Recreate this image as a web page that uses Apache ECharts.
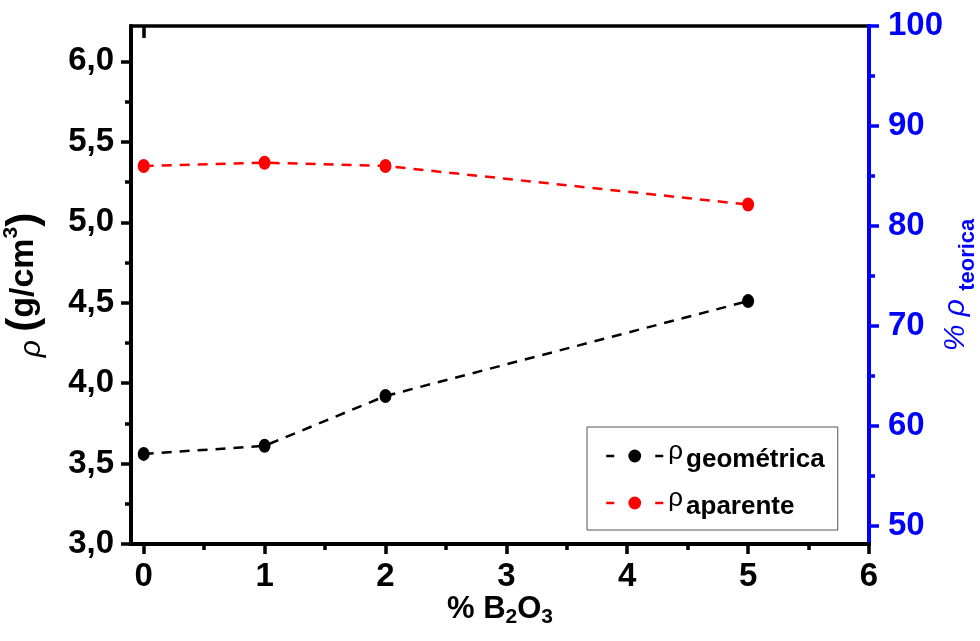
<!DOCTYPE html>
<html><head><meta charset="utf-8">
<script src="https://cdn.jsdelivr.net/npm/echarts@6/dist/echarts.min.js"></script>
<style>html,body{margin:0;padding:0;background:#fff}#c{width:980px;height:641px}</style>
</head><body><div id="c"></div>
<script>
const xPct = [0, 1, 2, 5];
const rhoGeom = [3.56, 3.61, 3.92, 4.51];
const rhoApar = [5.35, 5.37, 5.35, 5.11];
const xTicks = [0, 1, 2, 3, 4, 5, 6];
const xMinor = [0.5, 1.5, 2.5, 3.5, 4.5, 5.5];
const yTicks = [3.0, 3.5, 4.0, 4.5, 5.0, 5.5, 6.0];
const yMinor = [3.25, 3.75, 4.25, 4.75, 5.25, 5.75];
const rTicks = [50, 60, 70, 80, 90, 100];
const rMinor = [55, 65, 75, 85, 95];

const F = 'Liberation Sans, Arial, sans-serif';
const BLUE = '#0000ff';
const chart = echarts.init(document.getElementById('c'));
const pair = (xs, ys) => xs.map((x, i) => [x, ys[i]]);
const LS = 33;

chart.setOption({
  animation: false,
  grid: { left: 131, right: 111, top: 26, bottom: 97, containLabel: false, outerBoundsMode: 'none',
          show: true, borderColor: '#000', borderWidth: 3.5 },
  legend: {
    left: 587, top: 427, orient: 'vertical',
    borderColor: '#555', borderWidth: 1, padding: [8, 13, 10, 18], itemGap: 9,
    itemWidth: 57, itemHeight: 16,
    data: ['geom', 'apar'],
    lineStyle: { type: [8, 41], width: 2.5 },
    formatter: n => n === 'geom' ? '{r|ρ}{s|geométrica}' : '{r|ρ}{s|aparente}',
    textStyle: {
      fontFamily: F, color: '#000',
      rich: {
        r: { fontSize: 26, fontFamily: F, verticalAlign: 'top', lineHeight: 34, padding: [0, 3, 0, 0] },
        s: { fontSize: 26, fontWeight: 'bold', fontFamily: F, verticalAlign: 'bottom', lineHeight: 34, padding: [12, 0, 0, 0] }
      }
    }
  },
  xAxis: [{
    type: 'value', min: -0.105, max: 6,
    axisLine: { onZero: false, lineStyle: { color: '#000', width: 4 } },
    axisTick: { show: true, length: 10, lineStyle: { width: 3.5, color: '#000' }, customValues: xTicks },
    axisLabel: { customValues: xTicks, fontFamily: F, fontWeight: 'bold', fontSize: LS, color: '#000', margin: 16 },
    splitLine: { show: false },
    name: '{a|% B}{s|2}{a|O}{s|3}', nameLocation: 'middle', nameGap: 50, nameMoveOverlap: false,
    nameTextStyle: { rich: {
      a: { fontFamily: F, fontWeight: 'bold', fontSize: 31, color: '#000', verticalAlign: 'top', lineHeight: 34 },
      s: { fontFamily: F, fontWeight: 'bold', fontSize: 21, color: '#000', verticalAlign: 'bottom', lineHeight: 34, padding: [16, 0, 0, 0] }
    } }
  }, {
    type: 'value', min: -0.105, max: 6, position: 'bottom',
    axisLine: { show: false, onZero: false },
    axisTick: { show: true, length: 6, lineStyle: { width: 3.5, color: '#000' }, customValues: xMinor },
    axisLabel: { show: false }, splitLine: { show: false }
  }, {
    type: 'value', min: -0.105, max: 6, position: 'top',
    axisLine: { show: false, onZero: false },
    axisTick: { show: true, inside: true, length: 12, lineStyle: { width: 3.5, color: '#000' }, customValues: [0] },
    axisLabel: { show: false }, splitLine: { show: false }
  }],
  yAxis: [{
    type: 'value', min: 3.0, max: 6.22, position: 'left',
    axisLine: { show: true, onZero: false, lineStyle: { color: '#000', width: 4 } },
    axisTick: { show: true, length: 10, lineStyle: { width: 3.5, color: '#000' }, customValues: yTicks },
    axisLabel: { customValues: yTicks, formatter: v => v.toFixed(1).replace('.', ','), fontFamily: F, fontWeight: 'bold', fontSize: LS, color: '#000', margin: 17 },
    splitLine: { show: false },
    name: '{r|ρ }{p|(}{a|g/cm}{s|3}{p|)}', nameLocation: 'middle', nameGap: 84, nameRotate: 90, nameMoveOverlap: false,
    nameTextStyle: { rich: {
      r: { fontFamily: F, fontStyle: 'italic', fontSize: 30, color: '#000', verticalAlign: 'bottom', lineHeight: 46 },
      p: { fontFamily: F, fontWeight: 'bold', fontSize: 42, color: '#000', verticalAlign: 'middle', lineHeight: 46 },
      a: { fontFamily: F, fontWeight: 'bold', fontSize: 34, color: '#000', verticalAlign: 'middle', lineHeight: 46 },
      s: { fontFamily: F, fontWeight: 'bold', fontSize: 21, color: '#000', verticalAlign: 'top', lineHeight: 46 }
    } }
  }, {
    type: 'value', min: 3.0, max: 6.22, position: 'left',
    axisLine: { show: false, onZero: false },
    axisTick: { show: true, length: 6, lineStyle: { width: 3.5, color: '#000' }, customValues: yMinor },
    axisLabel: { show: false }, splitLine: { show: false }
  }, {
    type: 'value', min: 48.2, max: 100, position: 'right',
    axisLine: { show: true, onZero: false, lineStyle: { color: BLUE, width: 4 } },
    axisTick: { show: true, length: 10, lineStyle: { width: 3.5, color: BLUE }, customValues: rTicks },
    axisLabel: { customValues: rTicks, fontFamily: F, fontWeight: 'bold', fontSize: LS, color: BLUE, margin: 19 },
    splitLine: { show: false },
    name: '{r|% ρ }{s|teorica}', nameLocation: 'middle', nameGap: 72, nameRotate: 90, nameMoveOverlap: false,
    nameTextStyle: { rich: {
      r: { fontFamily: F, fontStyle: 'italic', fontSize: 30, color: BLUE, verticalAlign: 'top', lineHeight: 38 },
      s: { fontFamily: F, fontWeight: 'bold', fontSize: 22, color: BLUE, verticalAlign: 'bottom', lineHeight: 38, padding: [12, 0, 0, 0] }
    } }
  }, {
    type: 'value', min: 48.2, max: 100, position: 'right',
    axisLine: { show: false, onZero: false },
    axisTick: { show: true, length: 6, lineStyle: { width: 3.5, color: BLUE }, customValues: rMinor },
    axisLabel: { show: false }, splitLine: { show: false }
  }],
  series: [{
    name: 'geom', type: 'line', data: pair(xPct, rhoGeom),
    symbol: 'circle', symbolSize: [12, 14], itemStyle: { color: '#000' },
    lineStyle: { color: '#000', width: 2.5, type: [10, 8] }
  }, {
    name: 'apar', type: 'line', data: pair(xPct, rhoApar),
    symbol: 'circle', symbolSize: [12, 14], itemStyle: { color: '#ff0000' },
    lineStyle: { color: '#ff0000', width: 2.5, type: [10, 8] }
  }]
});
</script></body></html>
